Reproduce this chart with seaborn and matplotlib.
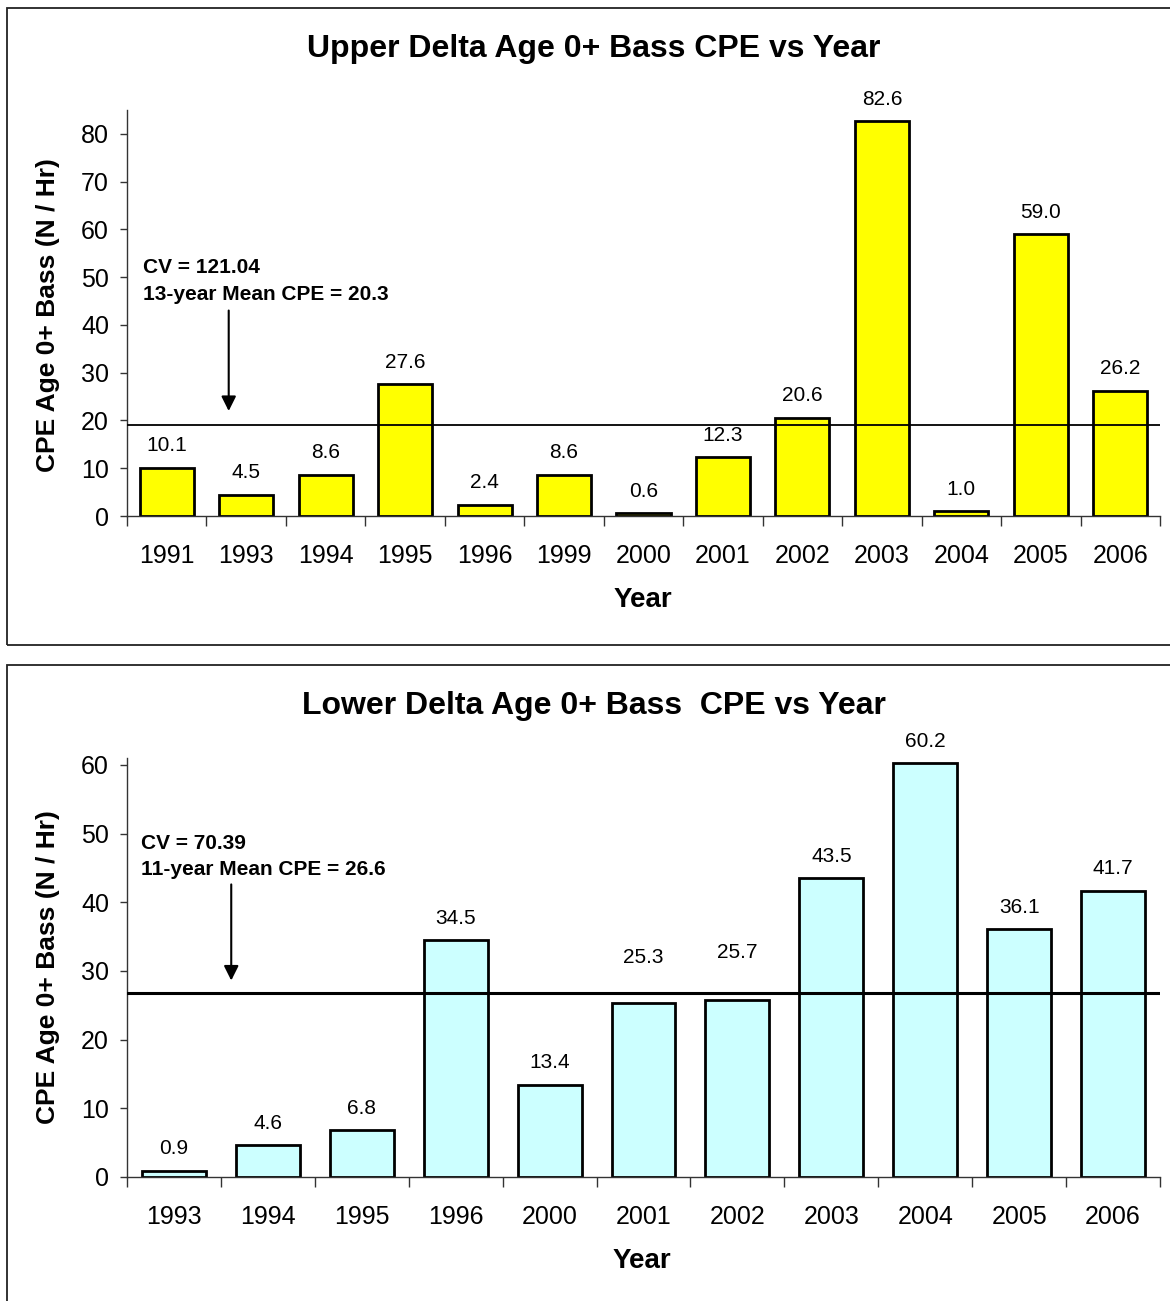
import matplotlib
matplotlib.use("Agg")
import matplotlib.pyplot as plt
import seaborn as sns
from matplotlib.patches import Rectangle
from matplotlib.ticker import MultipleLocator, FixedLocator


# ==========================================================
# DATA
# ==========================================================

upper_years = ["1991", "1993", "1994", "1995", "1996", "1999", "2000",
               "2001", "2002", "2003", "2004", "2005", "2006"]
upper_cpe = [10.1, 4.5, 8.6, 27.6, 2.4, 8.6, 0.6, 12.3, 20.6, 82.6, 1.0, 59.0, 26.2]
upper_mean_line = 19.1

lower_years = ["1993", "1994", "1995", "1996", "2000", "2001",
               "2002", "2003", "2004", "2005", "2006"]
lower_cpe = [0.9, 4.6, 6.8, 34.5, 13.4, 25.3, 25.7, 43.5, 60.2, 36.1, 41.7]
lower_mean_line = 26.8


# ==========================================================
# STYLE
# ==========================================================

sns.set_style("white")
plt.rcParams["font.family"] = ["Liberation Sans", "DejaVu Sans"]
plt.rcParams["text.color"] = "black"
plt.rcParams["xtick.color"] = "black"
plt.rcParams["ytick.color"] = "black"

W, H = 1170, 1301
fig = plt.figure(figsize=(W / 100, H / 100), dpi=100)


def fx(px):
    return px / W


def fy(py):
    return 1 - py / H


# chart-area borders (Excel style)
fig.patches.append(Rectangle((fx(7), fy(645)), fx(1175 - 7), (645 - 8) / H,
                             transform=fig.transFigure, fill=False,
                             edgecolor="#222222", linewidth=1.3))
fig.patches.append(Rectangle((fx(7), fy(1310)), fx(1175 - 7), (1310 - 665) / H,
                             transform=fig.transFigure, fill=False,
                             edgecolor="#222222", linewidth=1.3))


def draw_panel(ax, years, values, color, ymax, ystep, mean_val, mean_lw,
               pads, text_xy, arrow_x, arrow_y):
    sns.barplot(x=years, y=values, order=years, color=color, edgecolor="black",
                linewidth=2.0, width=0.68, saturation=1, ax=ax)

    # value labels above bars
    for bar, pad in zip(ax.containers[0], pads):
        h = bar.get_height()
        ax.annotate("%.1f" % h, xy=(bar.get_x() + bar.get_width() / 2, h),
                    xytext=(0, pad), textcoords="offset points",
                    ha="center", va="bottom", fontsize=15)

    n = len(years)
    ax.set_xlim(-0.5, n - 0.5)
    ax.set_ylim(0, ymax)
    ax.axhline(mean_val, color="black", linewidth=mean_lw, zorder=5)

    ax.text(text_xy[0], text_xy[1], "CV = %s" % text_xy[2], fontsize=15,
            fontweight="bold", va="center")
    ax.text(text_xy[0], text_xy[3], text_xy[4], fontsize=15,
            fontweight="bold", va="center")
    ax.annotate("", xy=(arrow_x, arrow_y[1]), xytext=(arrow_x, arrow_y[0]),
                arrowprops=dict(arrowstyle="-|>", color="black", lw=1.5,
                                mutation_scale=22))

    for s in ["top", "right"]:
        ax.spines[s].set_visible(False)
    for s in ["left", "bottom"]:
        ax.spines[s].set_color("#333333")
        ax.spines[s].set_linewidth(1.0)

    ax.yaxis.set_major_locator(MultipleLocator(ystep))
    ax.tick_params(axis="y", left=True, direction="out", length=5, width=1,
                   pad=8, labelsize=18, colors="#333333", labelcolor="black")
    ax.xaxis.set_minor_locator(FixedLocator([i - 0.5 for i in range(n + 1)]))
    ax.tick_params(axis="x", which="minor", bottom=True, direction="out",
                   length=7, width=1, colors="#333333")
    ax.tick_params(axis="x", which="major", bottom=True, length=0, pad=20,
                   labelsize=18)
    ax.set_xlabel("")
    ax.set_ylabel("")


# ==========================================================
# UPPER DELTA
# ==========================================================

ax1 = fig.add_axes([fx(127), fy(516), fx(1160 - 127), (516 - 110) / H])
upper_pads = [9] * len(upper_years)
draw_panel(ax1, upper_years, upper_cpe, "#FFFF00", 85, 10, upper_mean_line, 1.3,
           upper_pads, (-0.30, 52.1, "121.04", 46.3, "13-year Mean CPE = 20.3"),
           0.78, (43.6, 21.4))

fig.text(fx(594), fy(49), "Upper Delta Age 0+ Bass CPE vs Year", ha="center",
         va="center", fontsize=23, fontweight="bold")
fig.text(fx(48), fy(315), "CPE Age 0+ Bass (N / Hr)", rotation=90, ha="center",
         va="center", fontsize=19, fontweight="bold")
fig.text(fx(643), fy(600), "Year", ha="center", va="center", fontsize=20,
         fontweight="bold")


# ==========================================================
# LOWER DELTA
# ==========================================================

ax2 = fig.add_axes([fx(127), fy(1177), fx(1160 - 127), (1177 - 758) / H])
lower_pads = [9, 9, 9, 9, 9, 26, 28, 9, 9, 9, 9]
draw_panel(ax2, lower_years, lower_cpe, "#CCFFFF", 61, 10, lower_mean_line, 2.2,
           lower_pads, (-0.35, 48.6, "70.39", 44.7, "11-year Mean CPE = 26.6"),
           0.61, (43.0, 28.2))

fig.text(fx(594), fy(706), "Lower Delta Age 0+ Bass  CPE vs Year", ha="center",
         va="center", fontsize=23, fontweight="bold")
fig.text(fx(48), fy(967), "CPE Age 0+ Bass (N / Hr)", rotation=90, ha="center",
         va="center", fontsize=19, fontweight="bold")
fig.text(fx(642), fy(1261), "Year", ha="center", va="center", fontsize=20,
         fontweight="bold")

fig.savefig("out.png", dpi=100)
